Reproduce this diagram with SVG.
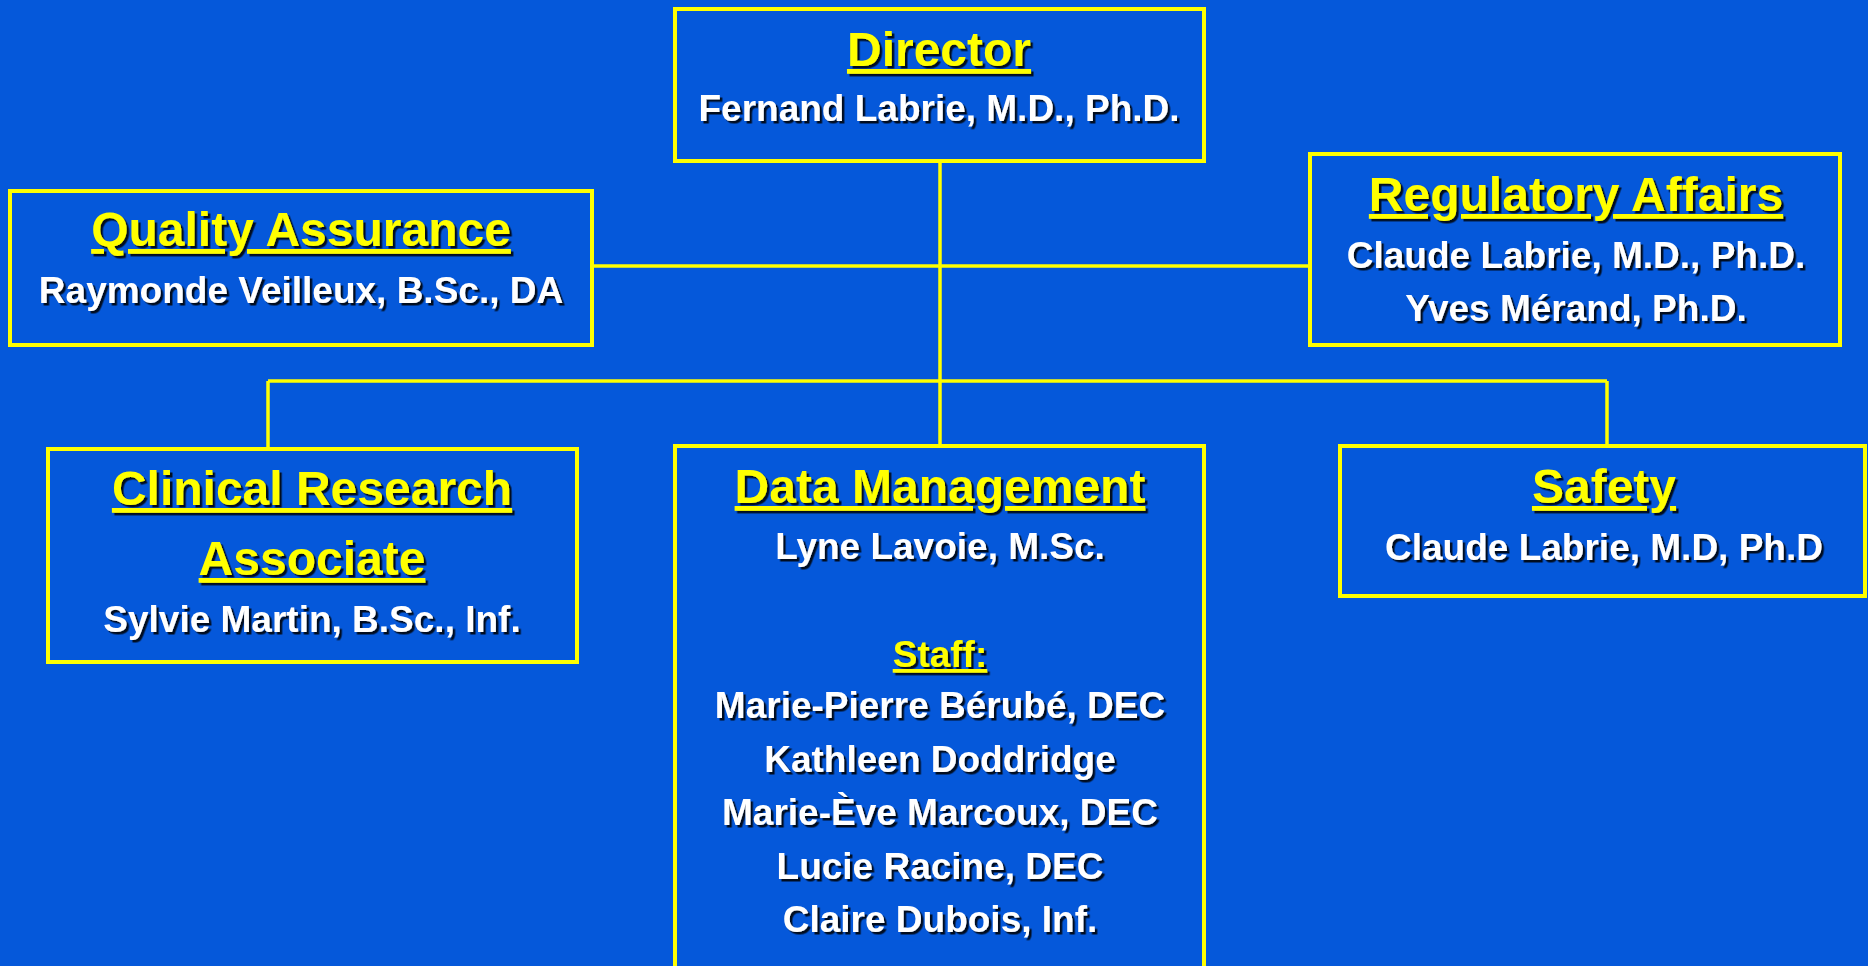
<svg xmlns="http://www.w3.org/2000/svg" width="1868" height="966" viewBox="0 0 1868 966">
<defs>
<filter id="sh" x="-5%" y="-20%" width="115%" height="150%">
<feDropShadow dx="2.5" dy="2.5" stdDeviation="0.6" flood-color="#000" flood-opacity="0.85"/>
</filter>
<style>
.box{fill:#0558da;stroke:#ffff00;stroke-width:4}
.ln{stroke:#ffff00;stroke-width:3.5;fill:none}
text{font-family:"Liberation Sans",Arial,sans-serif;font-weight:bold;text-anchor:middle;filter:url(#sh)}
.t{font-size:48px;fill:#ffff00;text-decoration:underline}
.s{font-size:37px;fill:#ffff00;text-decoration:underline}
.n{font-size:37px;fill:#ffffff}
</style>
</defs>
<rect width="1868" height="966" fill="#0558da"/>
<g id="connectors">
<line class="ln" x1="940" y1="161" x2="940" y2="446"/>
<line class="ln" x1="592" y1="266" x2="1310" y2="266"/>
<line class="ln" x1="268" y1="381" x2="1607" y2="381"/>
<line class="ln" x1="268" y1="381" x2="268" y2="449"/>
<line class="ln" x1="1607" y1="381" x2="1607" y2="446"/>
</g>
<g id="director">
<rect class="box" x="675" y="9" width="529" height="152"/>
<text class="t" x="939" y="66">Director</text>
<text class="n" x="939" y="121">Fernand Labrie, M.D., Ph.D.</text>
</g>
<g id="quality">
<rect class="box" x="10" y="191" width="582" height="154"/>
<text class="t" x="301" y="246">Quality Assurance</text>
<text class="n" x="301" y="303">Raymonde Veilleux, B.Sc., DA</text>
</g>
<g id="regulatory">
<rect class="box" x="1310" y="154" width="530" height="191"/>
<text class="t" x="1576" y="211">Regulatory Affairs</text>
<text class="n" x="1576" y="268">Claude Labrie, M.D., Ph.D.</text>
<text class="n" x="1576" y="321">Yves Mérand, Ph.D.</text>
</g>
<g id="cra">
<rect class="box" x="48" y="449" width="529" height="213"/>
<text class="t" x="312" y="505">Clinical Research</text>
<text class="t" x="312" y="575">Associate</text>
<text class="n" x="312" y="632">Sylvie Martin, B.Sc., Inf.</text>
</g>
<g id="datamgmt">
<rect class="box" x="675" y="446" width="529" height="530"/>
<text class="t" x="940" y="503">Data Management</text>
<text class="n" x="940" y="559">Lyne Lavoie, M.Sc.</text>
<text class="s" x="940" y="667">Staff:</text>
<text class="n" x="940" y="718">Marie-Pierre Bérubé, DEC</text>
<text class="n" x="940" y="772">Kathleen Doddridge</text>
<text class="n" x="940" y="825">Marie-Ève Marcoux, DEC</text>
<text class="n" x="940" y="879">Lucie Racine, DEC</text>
<text class="n" x="940" y="932">Claire Dubois, Inf.</text>
</g>
<g id="safety">
<rect class="box" x="1340" y="446" width="525" height="150"/>
<text class="t" x="1604" y="503">Safety</text>
<text class="n" x="1604" y="560">Claude Labrie, M.D, Ph.D</text>
</g>
</svg>
